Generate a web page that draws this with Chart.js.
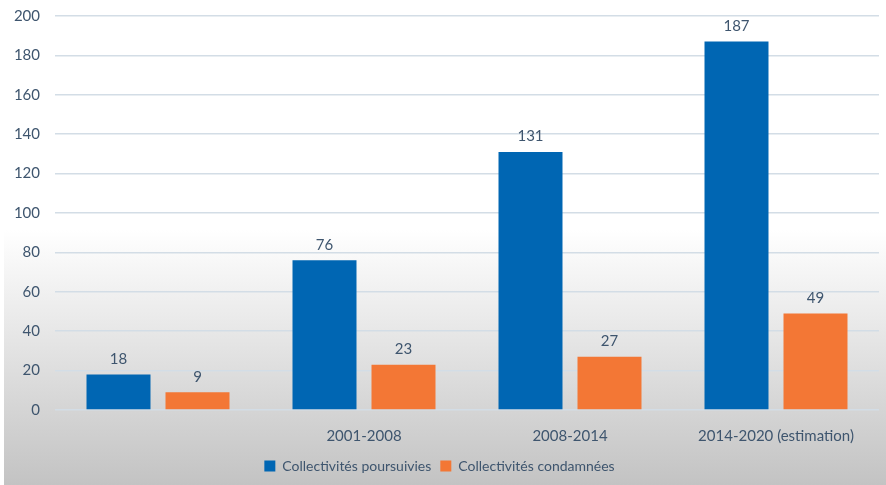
<!DOCTYPE html>
<html>
<head>
<meta charset="utf-8">
<script src="https://cdn.jsdelivr.net/npm/chart.js@4"></script>
<style>
html,body{margin:0;padding:0;background:#fff;}
#wrap{width:886px;height:485px;position:relative;}
</style>
</head>
<body>
<div id="wrap"><canvas id="c" width="886" height="485"></canvas></div>
<script>
const categories = ["", "2001-2008", "2008-2014", "2014-2020 (estimation)"];
const poursuivies = [18, 76, 131, 187];
const condamnees = [9, 23, 27, 49];
const seriesNames = ["Collectivités poursuivies", "Collectivités condamnées"];
const yTicks = [0, 20, 40, 60, 80, 100, 120, 140, 160, 180, 200];

const textColor = '#3e556e';
const FONT = 'Lato, "Open Sans", sans-serif';

const bgPlugin = {
  id: 'bg',
  beforeDraw(chart) {
    const ctx = chart.ctx;
    const g = ctx.createLinearGradient(0, 230, 0, 485);
    g.addColorStop(0, '#ffffff');
    g.addColorStop(1, '#c3c3c3');
    ctx.save();
    ctx.fillStyle = '#ffffff';
    ctx.fillRect(0, 0, chart.width, chart.height);
    ctx.fillStyle = g;
    ctx.fillRect(4, 0, chart.width - 4, chart.height);
    ctx.restore();
  }
};

const valuePlugin = {
  id: 'values',
  afterDatasetsDraw(chart) {
    const ctx = chart.ctx;
    ctx.save();
    ctx.font = '15px ' + FONT;
    ctx.fillStyle = textColor;
    ctx.textAlign = 'center';
    ctx.textBaseline = 'bottom';
    chart.data.datasets.forEach((ds, i) => {
      chart.getDatasetMeta(i).data.forEach((bar, j) => {
        ctx.fillText(String(ds.data[j]), bar.x, bar.y - 8);
      });
    });
    ctx.restore();
  }
};

new Chart(document.getElementById('c'), {
  type: 'bar',
  data: {
    labels: categories,
    datasets: [
      { label: seriesNames[0], data: poursuivies, backgroundColor: '#0066b3' },
      { label: seriesNames[1], data: condamnees, backgroundColor: '#f37735' }
    ]
  },
  options: {
    responsive: false,
    animation: false,
    devicePixelRatio: 1,
    layout: { padding: { top: 16, right: 7, bottom: 2, left: 0 } },
    datasets: { bar: { categoryPercentage: 0.767, barPercentage: 0.81 } },
    plugins: {
      legend: {
        position: 'bottom',
        labels: {
          boxWidth: 11, boxHeight: 11, padding: 9,
          color: textColor,
          font: { family: FONT, size: 14 }
        }
      },
      tooltip: { enabled: false }
    },
    scales: {
      x: {
        grid: { display: false, drawTicks: false },
        border: { display: false },
        ticks: { color: textColor, font: { family: FONT, size: 15 }, padding: 17, maxRotation: 0 },
        afterFit(s) { s.height = 40; s.paddingLeft = 0; s.paddingRight = 0; }
      },
      y: {
        min: 0, max: 200,
        afterBuildTicks(s) { s.ticks = yTicks.map(v => ({ value: v })); },
        grid: { color: '#d3dde6', lineWidth: 1.5, drawTicks: false },
        border: { display: false },
        ticks: { color: textColor, font: { family: FONT, size: 15 }, padding: 15 },
        afterFit(s) { s.width = 55; s.paddingTop = 0; s.paddingBottom = 0; }
      }
    }
  },
  plugins: [bgPlugin, valuePlugin]
});
</script>
</body>
</html>
